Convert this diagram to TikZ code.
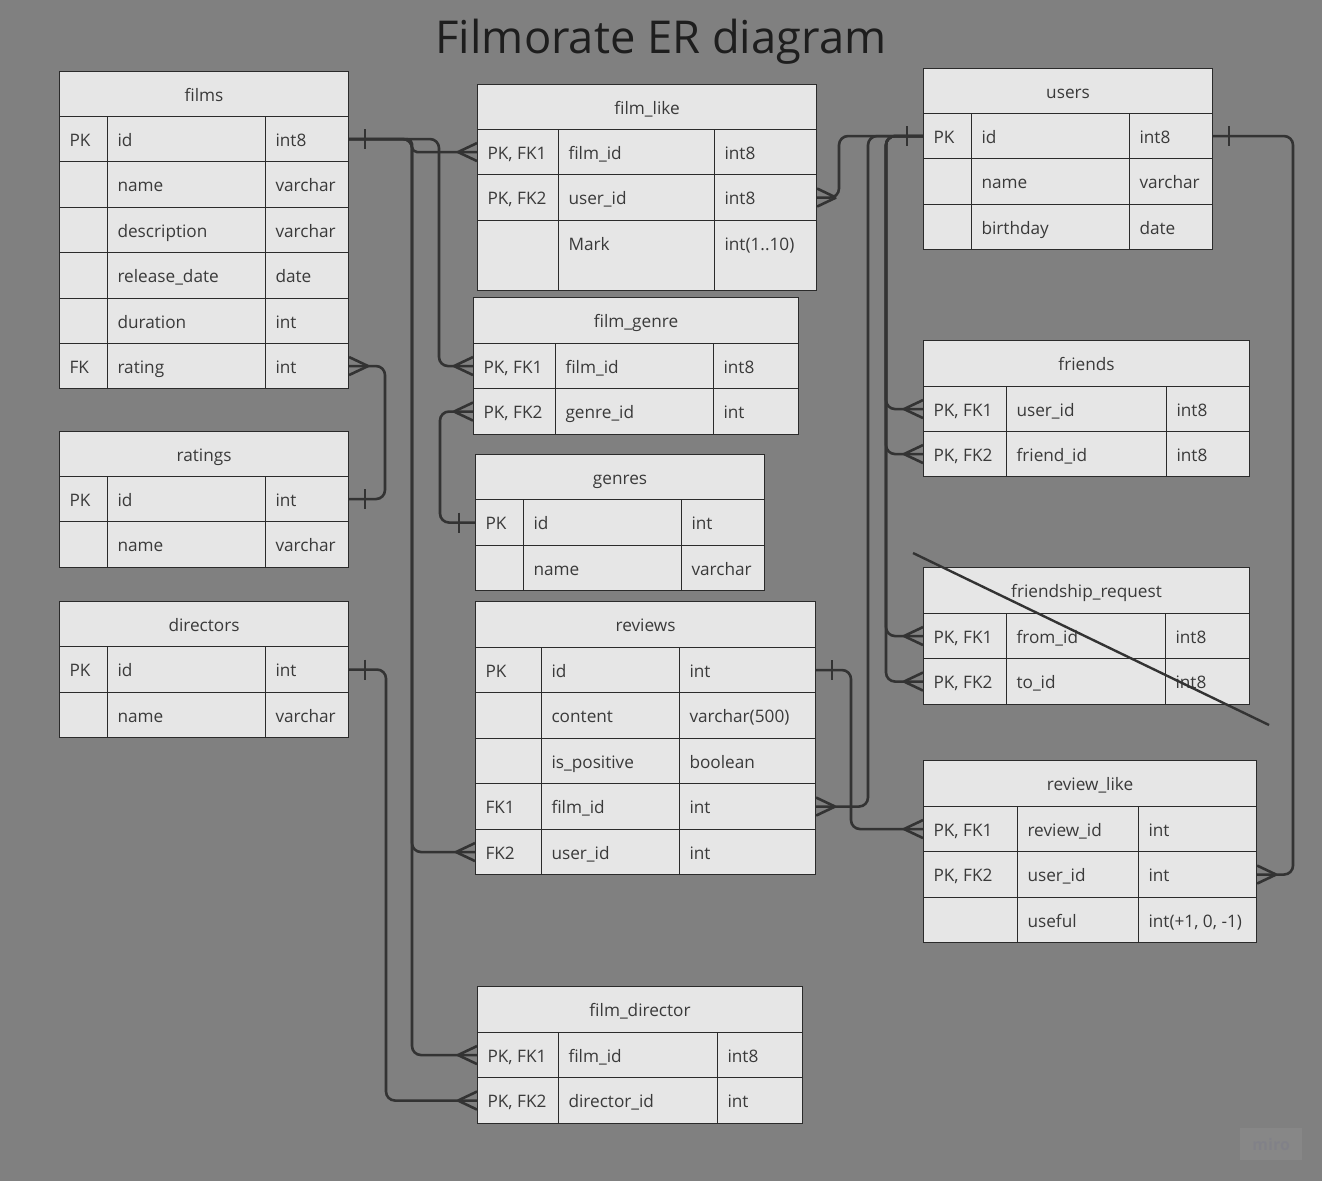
\documentclass[tikz,border=0pt]{standalone}
\usepackage{fontspec}
\setmainfont{Open Sans}
\usetikzlibrary{calc}
\definecolor{bgc}{HTML}{808080}
\definecolor{cellbg}{HTML}{E6E6E6}
\definecolor{edgec}{HTML}{2B2B2B}
\definecolor{txtc}{HTML}{3A3A3A}
\definecolor{linec}{HTML}{333333}
\definecolor{titlec}{HTML}{1E1E1E}
\tikzset{
  cellbox/.style={draw=edgec, line width=1.1pt, fill=cellbg, text=txtc,
    font=\fontsize{17.2}{20}\selectfont, inner xsep=10pt, inner ysep=0pt,
    text height=29.5pt, anchor=north west},
  erline/.style={draw=linec, line width=2.6pt, rounded corners=9pt},
  tickmk/.style={draw=linec, line width=2.6pt},
}
\newcommand\setcols[4]{\def\cA{#1}\def\cB{#2}\def\cC{#3}\def\cD{#4}}
\newcommand\ercell[7]{%
  \pgfmathsetmacro\erw{#3-#2-20}\pgfmathsetmacro\erd{#5-29.5}%
  \node[cellbox, text depth=\erd pt] (#1) at (#2,#4) {\makebox[\erw pt][#6]{#7}};}
\newcommand\errow[6]{%
  \ercell{#1-k}{\cA}{\cB}{#2}{#3}{l}{#4}%
  \ercell{#1-n}{\cB}{\cC}{#2}{#3}{l}{#5}%
  \ercell{#1-t}{\cC}{\cD}{#2}{#3}{l}{#6}}
\newcommand\erhead[4]{\ercell{#1}{\cA}{\cD}{#2}{#3}{c}{#4}}
\newcommand\crowL[1]{\draw[tickmk] ($(#1)+(-19,0)$) -- ($(#1)+(0,-9)$) ($(#1)+(-19,0)$) -- ($(#1)+(0,9)$);}
\newcommand\crowR[1]{\draw[tickmk] ($(#1)+(19,0)$) -- ($(#1)+(0,-9)$) ($(#1)+(19,0)$) -- ($(#1)+(0,9)$);}
\newcommand\barL[1]{\draw[tickmk] ($(#1)+(-16,-10)$) -- ($(#1)+(-16,10)$);}
\newcommand\barR[1]{\draw[tickmk] ($(#1)+(16,-10)$) -- ($(#1)+(16,10)$);}
\begin{document}
\begin{tikzpicture}[x=1pt,y=-1pt]
\fill[bgc] (0,0) rectangle (1322,1181);
\useasboundingbox (0,0) rectangle (1322,1181);

\node[anchor=base, text=titlec, font=\fontsize{45.3}{50}\selectfont, inner sep=0pt] (title) at (661,53) {Filmorate ER diagram};

% films
\setcols{59}{107}{265}{348}
\erhead{films}{71}{45}{films}
\errow{films-id}{116}{45}{PK}{id}{int8}
\errow{films-name}{161}{46}{}{name}{varchar}
\errow{films-desc}{207}{45}{}{description}{varchar}
\errow{films-rel}{252}{46}{}{release\_date}{date}
\errow{films-dur}{298}{45}{}{duration}{int}
\errow{films-rating}{343}{45}{FK}{rating}{int}
% ratings
\erhead{ratings}{431}{45}{ratings}
\errow{ratings-id}{476}{45}{PK}{id}{int}
\errow{ratings-name}{521}{46}{}{name}{varchar}
% directors
\erhead{directors}{601}{45}{directors}
\errow{directors-id}{646}{46}{PK}{id}{int}
\errow{directors-name}{692}{45}{}{name}{varchar}
% film_like
\setcols{477}{558}{714}{816}
\erhead{fl}{84}{45}{film\_like}
\errow{fl-fid}{129}{45}{PK, FK1}{film\_id}{int8}
\errow{fl-uid}{174}{46}{PK, FK2}{user\_id}{int8}
\errow{fl-mark}{220}{70}{}{Mark}{int(1..10)}
% film_genre
\setcols{473}{555}{713}{798}
\erhead{fg}{297}{46}{film\_genre}
\errow{fg-fid}{343}{45}{PK, FK1}{film\_id}{int8}
\errow{fg-gid}{388}{46}{PK, FK2}{genre\_id}{int}
% genres
\setcols{475}{523}{681}{764}
\erhead{genres}{454}{45}{genres}
\errow{genres-id}{499}{46}{PK}{id}{int}
\errow{genres-name}{545}{45}{}{name}{varchar}
% reviews
\setcols{475}{541}{679}{815}
\erhead{rv}{601}{46}{reviews}
\errow{rv-id}{647}{45}{PK}{id}{int}
\errow{rv-content}{692}{46}{}{content}{varchar(500)}
\errow{rv-pos}{738}{45}{}{is\_positive}{boolean}
\errow{rv-fid}{783}{46}{FK1}{film\_id}{int}
\errow{rv-uid}{829}{45}{FK2}{user\_id}{int}
% film_director
\setcols{477}{558}{717}{802}
\erhead{fd}{986}{46}{film\_director}
\errow{fd-fid}{1032}{45}{PK, FK1}{film\_id}{int8}
\errow{fd-did}{1077}{46}{PK, FK2}{director\_id}{int}
% users
\setcols{923}{971}{1129}{1212}
\erhead{users}{68}{45}{users}
\errow{users-id}{113}{45}{PK}{id}{int8}
\errow{users-name}{158}{46}{}{name}{varchar}
\errow{users-bd}{204}{45}{}{birthday}{date}
% friends
\setcols{923}{1006}{1166}{1249}
\erhead{fr}{340}{46}{friends}
\errow{fr-uid}{386}{45}{PK, FK1}{user\_id}{int8}
\errow{fr-fid}{431}{45}{PK, FK2}{friend\_id}{int8}
% friendship_request
\setcols{923}{1006}{1165}{1249}
\erhead{rq}{567}{46}{friendship\_request}
\errow{rq-from}{613}{45}{PK, FK1}{from\_id}{int8}
\errow{rq-to}{658}{46}{PK, FK2}{to\_id}{int8}
% review_like
\setcols{923}{1017}{1138}{1256}
\erhead{rl}{760}{46}{review\_like}
\errow{rl-rid}{806}{45}{PK, FK1}{review\_id}{int}
\errow{rl-uid}{851}{46}{PK, FK2}{user\_id}{int}
\errow{rl-useful}{897}{45}{}{useful}{int(+1, 0, -1)}

% connectors
\draw[erline, rounded corners=5pt] (films-id-t.east) -- (412,0 |- films-id-t.east) -- (412,0 |- fl-fid-k.west) -- (fl-fid-k.west);
\draw[erline] (films-id-t.east) -- (439,0 |- films-id-t.east) -- (439,0 |- fg-fid-k.west) -- (fg-fid-k.west);
\draw[erline] (films-id-t.east) -- (412,0 |- films-id-t.east) -- (412,0 |- rv-uid-k.west) -- (rv-uid-k.west);
\draw[erline] (films-id-t.east) -- (412,0 |- films-id-t.east) -- (412,0 |- fd-fid-k.west) -- (fd-fid-k.west);
\draw[erline] (films-rating-t.east) -- (385,0 |- films-rating-t.east) -- (385,0 |- ratings-id-t.east) -- (ratings-id-t.east);
\draw[erline] (fg-gid-k.west) -- (440,0 |- fg-gid-k.west) -- (440,0 |- genres-id-k.west) -- (genres-id-k.west);
\draw[erline] (directors-id-t.east) -- (386,0 |- directors-id-t.east) -- (386,0 |- fd-did-k.west) -- (fd-did-k.west);
\draw[erline] (users-id-k.west) -- (839,0 |- users-id-k.west) -- (839,0 |- fl-uid-t.east) -- (fl-uid-t.east);
\draw[erline] (users-id-k.west) -- (868,0 |- users-id-k.west) -- (868,0 |- rv-fid-t.east) -- (rv-fid-t.east);
\draw[erline] (users-id-k.west) -- (886,0 |- users-id-k.west) -- (886,0 |- fr-uid-k.west) -- (fr-uid-k.west);
\draw[erline] (users-id-k.west) -- (886,0 |- users-id-k.west) -- (886,0 |- fr-fid-k.west) -- (fr-fid-k.west);
\draw[erline] (users-id-k.west) -- (886,0 |- users-id-k.west) -- (886,0 |- rq-from-k.west) -- (rq-from-k.west);
\draw[erline] (users-id-k.west) -- (886,0 |- users-id-k.west) -- (886,0 |- rq-to-k.west) -- (rq-to-k.west);
\draw[erline] (rv-id-t.east) -- (851,0 |- rv-id-t.east) -- (851,0 |- rl-rid-k.west) -- (rl-rid-k.west);
\draw[erline] (users-id-t.east) -- (1293,0 |- users-id-t.east) -- (1293,0 |- rl-uid-t.east) -- (rl-uid-t.east);

% one-marks
\barR{films-id-t.east}
\barR{ratings-id-t.east}
\barR{directors-id-t.east}
\barL{users-id-k.west}
\barR{users-id-t.east}
\barR{rv-id-t.east}
\barL{genres-id-k.west}
% many-marks
\crowL{fl-fid-k.west}
\crowL{fg-fid-k.west}
\crowL{fg-gid-k.west}
\crowL{rv-uid-k.west}
\crowL{fd-fid-k.west}
\crowL{fd-did-k.west}
\crowR{films-rating-t.east}
\crowR{fl-uid-t.east}
\crowR{rv-fid-t.east}
\crowL{fr-uid-k.west}
\crowL{fr-fid-k.west}
\crowL{rq-from-k.west}
\crowL{rq-to-k.west}
\crowL{rl-rid-k.west}
\crowR{rl-uid-t.east}

% strike-through of friendship_request
\coordinate (strikeA) at (913,553);
\coordinate (strikeB) at (1269,725);
\draw[linec, line width=2.4pt] (strikeA) -- (strikeB);

% watermark
\node[anchor=north west, fill=white, fill opacity=0.06, minimum width=62pt, minimum height=32pt, inner sep=0pt] (wm) at (1240,1128) {};
\node[text=gray!90!blue, text opacity=0.25, font=\fontsize{16}{18}\selectfont\bfseries] (wmtext) at (wm.center) {miro};
\end{tikzpicture}
\end{document}
